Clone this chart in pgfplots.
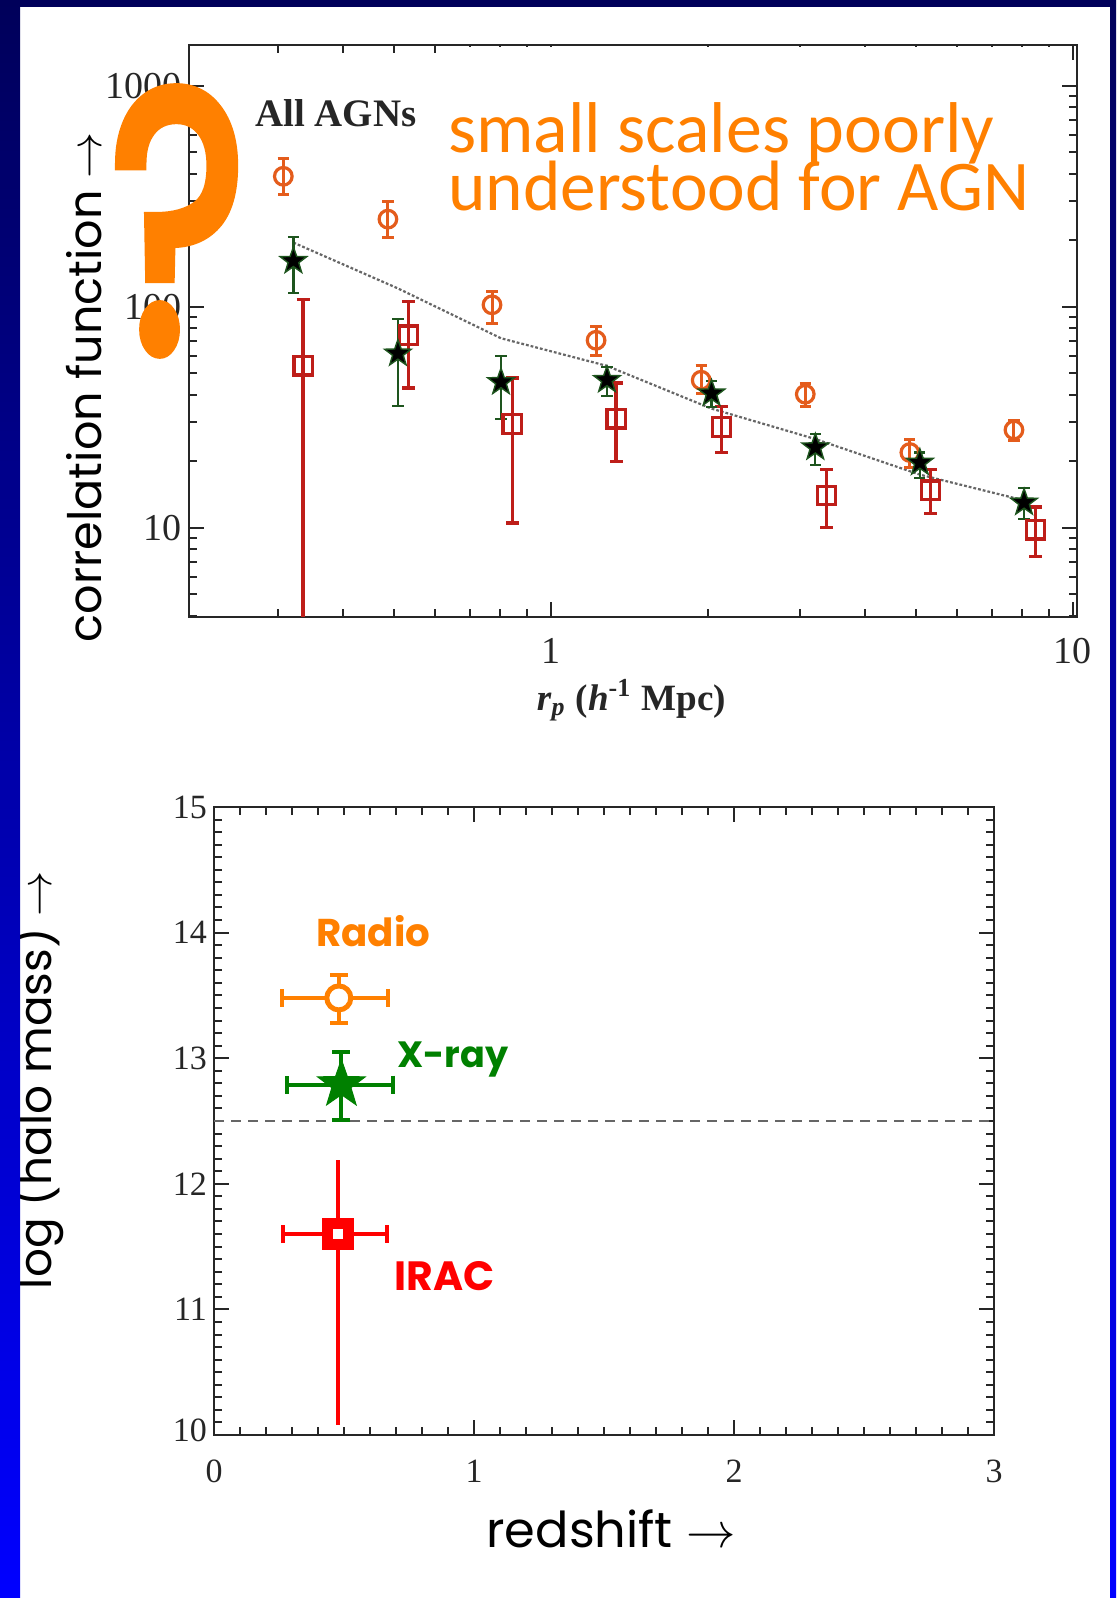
\documentclass[border=0pt]{standalone}
\usepackage{fontspec}
\setmainfont{Liberation Serif}
\newfontfamily\pop{Poppins}
\newfontfamily\popfb[FakeBold=3.5]{Poppins}
\newfontfamily\carl{Carlito}
\usepackage{graphicx}
\usepackage{pgfplots}
\pgfplotsset{compat=1.18}

\definecolor{ro}{RGB}{255,128,0}
\definecolor{xg}{RGB}{0,128,0}
\definecolor{irr}{RGB}{255,0,0}
\definecolor{radtop}{RGB}{228,92,28}
\definecolor{startop}{RGB}{30,85,30}
\definecolor{irtop}{RGB}{190,30,25}
\definecolor{navyA}{RGB}{0,0,90}
\definecolor{blueB}{RGB}{0,0,255}

\pgfdeclareplotmark{fstar}{%
 \pgfpathmoveto{\pgfpointpolar{90}{\pgfplotmarksize}}%
 \pgfpathlineto{\pgfpointpolar{126}{0.4*\pgfplotmarksize}}%
 \pgfpathlineto{\pgfpointpolar{162}{\pgfplotmarksize}}%
 \pgfpathlineto{\pgfpointpolar{198}{0.4*\pgfplotmarksize}}%
 \pgfpathlineto{\pgfpointpolar{234}{\pgfplotmarksize}}%
 \pgfpathlineto{\pgfpointpolar{270}{0.4*\pgfplotmarksize}}%
 \pgfpathlineto{\pgfpointpolar{306}{\pgfplotmarksize}}%
 \pgfpathlineto{\pgfpointpolar{342}{0.4*\pgfplotmarksize}}%
 \pgfpathlineto{\pgfpointpolar{18}{\pgfplotmarksize}}%
 \pgfpathlineto{\pgfpointpolar{54}{0.4*\pgfplotmarksize}}%
 \pgfpathclose
 \pgfusepathqfillstroke}

\begin{document}
\begin{tikzpicture}
\useasboundingbox (0,0) rectangle (558pt,-799pt);
\fill[white] (0,0) rectangle (558pt,-799pt);

% ---------------- top panel ----------------
\begin{axis}[
  at={(94.5pt,-308.5pt)}, anchor=south west,
  width=444pt, height=286pt, scale only axis,
  xmode=log, ymode=log,
  xmin=0.2025, xmax=10.18, ymin=3.95, ymax=1527,
  xtick={1,10}, xticklabels={1,10},
  ytick={10,100,1000}, yticklabels={10,100,1000},
  minor xtick={0.3,0.4,0.5,0.6,0.7,0.8,0.9,2,3,4,5,6,7,8,9},
  minor ytick={4,5,6,7,8,9,20,30,40,50,60,70,80,90,200,300,400,500,600,700,800,900},
  tick align=inside, major tick length=7.5pt, minor tick length=4pt,
  every tick/.style={black!85, line width=1pt},
  axis line style={line width=1.2pt, black!85},
  ticklabel style={font=\fontsize{19}{19}\selectfont, text=black!85},
  xticklabel style={yshift=-7pt},
  /pgf/number format/assume math mode=true,
]
\addplot[line width=1.1pt, black!60, dash pattern=on 1.4pt off 1pt]
  coordinates {(0.321,195) (0.509,121) (0.802,72) (1.28,54) (2.03,34.6) (3.21,25.2) (5.09,17.4) (8.06,13.3)};

\addplot[only marks, mark=o, mark size=4.4pt,
  mark options={draw=radtop, line width=1.6pt, solid},
  error bars/.cd, y dir=both, y explicit,
  error bar style={draw=radtop, line width=1.5pt},
  error mark options={rotate=90, draw=radtop, mark size=2.8pt, line width=1.5pt}]
  coordinates {
  (0.307,389) += (0,77) -= (0,68)
  (0.487,249) += (0,49) -= (0,43)
  (0.771,102) += (0,15) -= (0,18)
  (1.22,70.5) += (0,10.5) -= (0,10.5)
  (1.94,46.5) += (0,7.5) -= (0,6)
  (3.07,40.2) += (0,4.8) -= (0,4.9)
  (4.87,21.9) += (0,3.3) -= (0,3.2)
  (7.71,27.7) += (0,2.8) -= (0,3.0)
  };

\addplot[only marks, mark=square, mark size=4.6pt,
  mark options={draw=irtop, line width=1.6pt, solid},
  error bars/.cd, y dir=both, y explicit,
  error bar style={draw=irtop, line width=1.7pt},
  error mark options={rotate=90, draw=irtop, mark size=3.2pt, line width=1.7pt}]
  coordinates {
  (0.335,54.1) += (0,53.9) -= (0,53.0)
  (0.533,74.3) += (0,31.1) -= (0,31.5)
  (0.843,29.5) += (0,18.1) -= (0,19.0)
  (1.333,31.1) += (0,14.0) -= (0,11.1)
  (2.12,28.6) += (0,6.7) -= (0,6.7)
  (3.37,14.0) += (0,4.3) -= (0,4.0)
  (5.33,14.8) += (0,3.5) -= (0,3.2)
  (8.47,9.8) += (0,2.6) -= (0,2.4)
  };

\addplot[only marks, mark=fstar, mark size=7pt,
  mark options={fill=black, draw=startop, line width=0.7pt, solid},
  error bars/.cd, y dir=both, y explicit,
  error bar style={draw=startop, line width=1.1pt},
  error mark options={rotate=90, draw=startop, mark size=2.8pt, line width=1.1pt}]
  coordinates {
  (0.321,161) += (0,45) -= (0,46)
  (0.509,61.4) += (0,26.6) -= (0,25.7)
  (0.802,45.6) += (0,14.5) -= (0,14.5)
  (1.28,46.6) += (0,6.9) -= (0,7.3)
  (2.03,40.5) += (0,5.6) -= (0,5.2)
  (3.21,23.1) += (0,3.4) -= (0,3.8)
  (5.09,19.7) += (0,2.2) -= (0,2.9)
  (8.06,13.0) += (0,2.1) -= (0,2.0)
  };
\end{axis}

% white patch hiding top ticks under the annotation
\fill[white] (223.5pt,-23.5pt) rectangle (529pt,-107pt);

\node[anchor=base west, inner sep=0, text=black!85] at (127.5pt,-63.5pt)
  {\resizebox{80.5pt}{!}{\bfseries All AGNs}};
\node[anchor=base west, inner sep=0, text=ro] at (224pt,-76.5pt)
  {\resizebox{273pt}{!}{\carl small scales poorly}};
\node[anchor=base west, inner sep=0, text=ro] at (224pt,-105.5pt)
  {\resizebox{290.5pt}{!}{\carl understood for AGN}};
\node[inner sep=0, text=ro] at (89pt,-110.5pt)
  {\resizebox{68pt}{130pt}{\popfb ?}};

\node[rotate=90, inner sep=0] at (42pt,-193.5pt)
  {\resizebox{255pt}{!}{\pop correlation function $\rightarrow$}};
\node[anchor=base, inner sep=0, text=black!85] at (315.7pt,-355pt)
  {\resizebox{94.5pt}{!}{\bfseries\textit{r}\textsubscript{\textit{p}} (\textit{h}\textsuperscript{-1} Mpc)}};

% ---------------- bottom panel ----------------
\begin{axis}[
  at={(107pt,-717.5pt)}, anchor=south west,
  width=390pt, height=314pt, scale only axis,
  xmin=0, xmax=3, ymin=10, ymax=15,
  xtick={0,1,2,3}, xticklabels={0,1,2,3},
  ytick={10,11,12,13,14,15},
  yticklabels={\raisebox{5pt}{10},11,12,13,14,\raisebox{-3.5pt}{15}},
  minor x tick num=9, minor y tick num=9,
  tick align=inside, major tick length=7.5pt, minor tick length=4pt,
  every tick/.style={black!85, line width=1pt},
  axis line style={line width=1.2pt, black!85},
  ticklabel style={font=\fontsize{17}{17}\selectfont, text=black!85},
  xticklabel style={yshift=-9pt},
  /pgf/number format/assume math mode=true,
]
\addplot[black!60, line width=0.8pt, dash pattern=on 5pt off 3.5pt]
  coordinates {(0,12.5) (3,12.5)};

\addplot[only marks, mark=*, mark size=6pt,
  mark options={draw=ro, fill=white, line width=2.5pt},
  error bars/.cd, x dir=both, x explicit, y dir=both, y explicit,
  error bar style={draw=ro, line width=2pt},
  error mark options={rotate=90, draw=ro, mark size=4.5pt, line width=2pt}]
  coordinates {(0.48,13.48) += (0.19,0.18) -= (0.22,0.20)};

\addplot[only marks, mark=fstar, mark size=12.5pt,
  mark options={draw=xg, fill=xg, line width=0.5pt},
  error bars/.cd, x dir=both, x explicit, y dir=both, y explicit,
  error bar style={draw=xg, line width=2pt},
  error mark options={rotate=90, draw=xg, mark size=4.5pt, line width=2pt}]
  coordinates {(0.49,12.79) += (0.20,0.26) -= (0.21,0.28)};

\addplot[draw=irr, line width=2pt] coordinates {(0.475,10.08) (0.475,12.19)};
\addplot[only marks, mark=square*, mark size=5.25pt,
  mark options={draw=irr, fill=white, line width=5.5pt},
  error bars/.cd, x dir=both, x explicit,
  error bar style={draw=irr, line width=2pt},
  error mark options={rotate=90, draw=irr, mark size=4.5pt, line width=2pt}]
  coordinates {(0.475,11.6) += (0.19,0) -= (0.21,0)};

\node[anchor=base west, inner sep=0, text=ro] at (axis cs:0.392,13.89)
  {\resizebox{57pt}{!}{\pop\bfseries Radio}};
\node[anchor=base west, inner sep=0, text=xg] at (axis cs:0.704,12.93)
  {\resizebox{55.5pt}{!}{\pop\bfseries X-ray}};
\node[anchor=base west, inner sep=0, text=irr] at (axis cs:0.692,11.15)
  {\resizebox{50pt}{!}{\pop\bfseries IRAC}};
\end{axis}

\node[rotate=90, inner sep=0] at (18pt,-540pt)
  {\resizebox{209pt}{!}{\pop log (halo mass) $\rightarrow$}};
\node[anchor=base, inner sep=0] at (305.5pt,-773.5pt)
  {\resizebox{124.5pt}{!}{\pop redshift $\rightarrow$}};

% ---------------- frame ----------------
\shade[top color=navyA, bottom color=blueB] (0,0) rectangle (10pt,-799pt);
\shade[top color=navyA, bottom color=blueB] (555pt,0) rectangle (558pt,-799pt);
\fill[navyA] (0,0) rectangle (558pt,-3.5pt);
\end{tikzpicture}
\end{document}
